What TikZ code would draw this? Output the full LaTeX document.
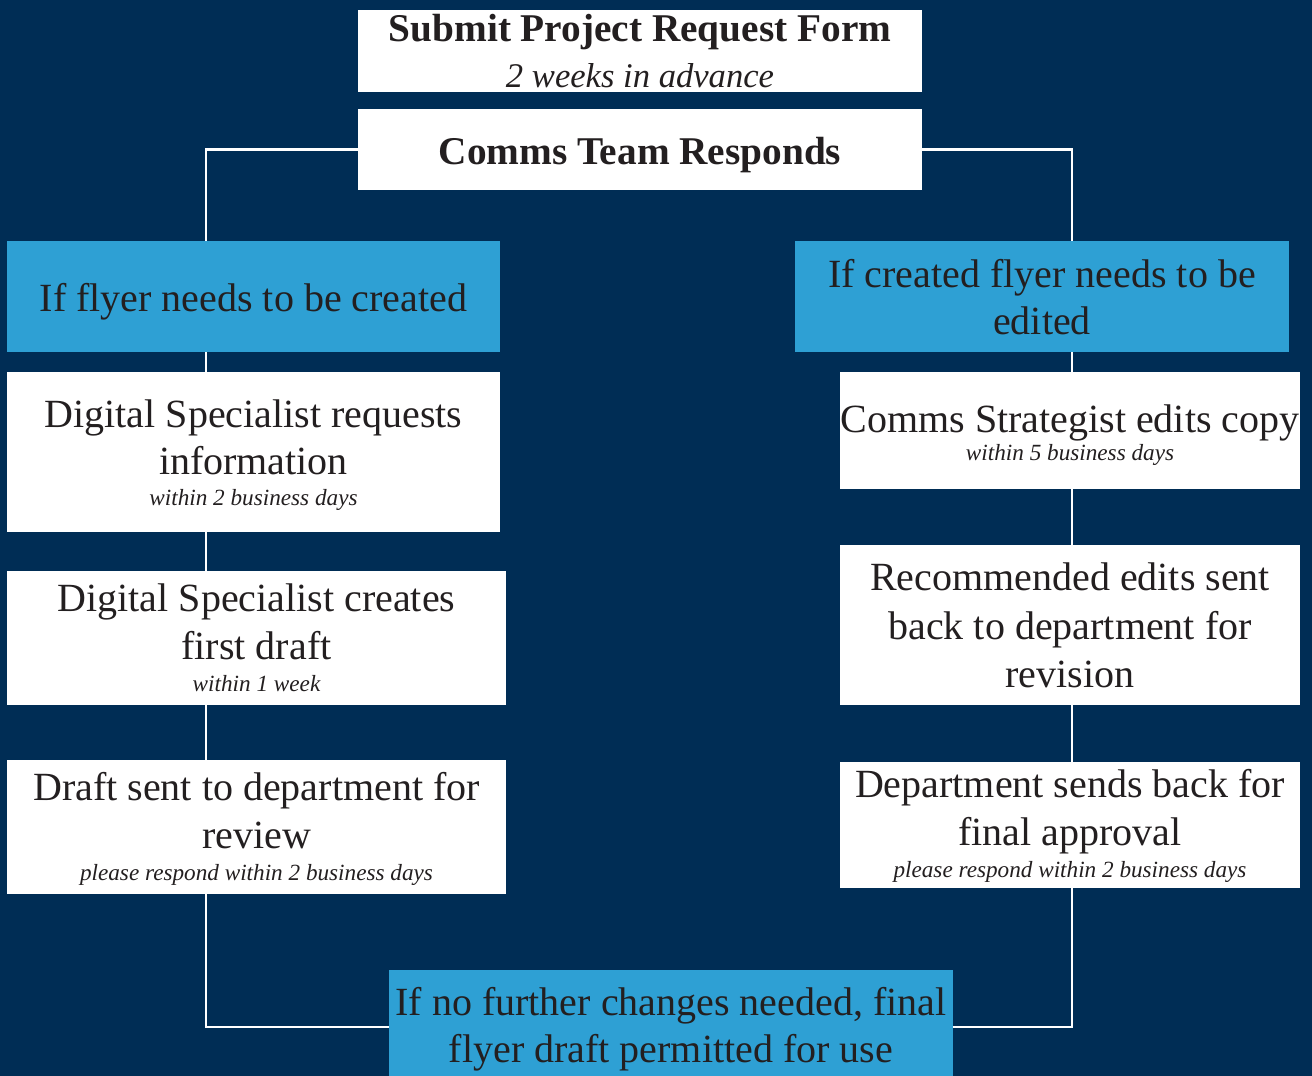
\documentclass[tikz,border=0pt]{standalone}
\usepackage{fontspec}
\setmainfont{Liberation Serif}
\definecolor{navy}{RGB}{0,45,85}
\definecolor{skyblue}{RGB}{46,160,212}
\definecolor{ink}{RGB}{35,31,32}
\pgfdeclarelayer{bglayer}
\pgfdeclarelayer{linelayer}
\pgfsetlayers{bglayer,linelayer,main}
\begin{document}
\begin{tikzpicture}[x=1pt,y=-1pt,
  box/.style={rectangle, inner sep=0pt, outer sep=0pt, draw=none, anchor=north west},
  wbox/.style={box, fill=white},
  bbox/.style={box, fill=skyblue},
  main/.style={anchor=base, inner sep=0pt, text=ink, font=\fontsize{40}{48}\selectfont},
  mainb/.style={anchor=base, inner sep=0pt, text=ink, font=\fontsize{39.3}{47}\selectfont\bfseries},
  lead/.style={anchor=base, inner sep=0pt, text=ink, font=\fontsize{34.6}{40}\selectfont\itshape},
  note/.style={anchor=base, inner sep=0pt, text=ink, font=\fontsize{23.2}{28}\selectfont\itshape},
  conn/.style={draw=white, line width=2.5pt}]
\begin{pgfonlayer}{bglayer}
\fill[navy] (0,0) rectangle (1312,1076);
\end{pgfonlayer}
\useasboundingbox (0,0) rectangle (1312,1076);

% boxes
\node[wbox, minimum width=564pt, minimum height=82pt] (submit) at (358,10) {};
\node[wbox, minimum width=564pt, minimum height=81pt] (comms) at (358,109) {};
\node[bbox, minimum width=493pt, minimum height=111pt] (lblue) at (7,241) {};
\node[bbox, minimum width=494pt, minimum height=111pt] (rblue) at (795,241) {};
\node[wbox, minimum width=493pt, minimum height=160pt] (l1) at (7,372) {};
\node[wbox, minimum width=499pt, minimum height=134pt] (l2) at (7,571) {};
\node[wbox, minimum width=499pt, minimum height=134pt] (l3) at (7,760) {};
\node[wbox, minimum width=460pt, minimum height=117pt] (r1) at (840,372) {};
\node[wbox, minimum width=460pt, minimum height=160pt] (r2) at (840,545) {};
\node[wbox, minimum width=460pt, minimum height=126pt] (r3) at (840,762) {};
\node[bbox, minimum width=564pt, minimum height=114pt] (final) at (389,970) {};

% texts
\node[mainb] (submitA) at (640,41) {Submit Project Request Form};
\node[lead] (submitB) at (640,87) {2 weeks in advance};
\node[mainb] (commsA) at (640,164) {Comms Team Responds};
\node[main] (lblueA) at (253.5,311) {If flyer needs to be created};
\node[main] (rblueA) at (1042,287) {If created flyer needs to be};
\node[main] (rblueB) at (1042,334) {edited};
\node[main] (l1A) at (253.5,427) {Digital Specialist requests};
\node[main] (l1B) at (253.5,474) {information};
\node[note] (l1C) at (253.5,505) {within 2 business days};
\node[main] (l2A) at (256.5,611) {Digital Specialist creates};
\node[main] (l2B) at (256.5,659) {first draft};
\node[note] (l2C) at (256.5,691) {within 1 week};
\node[main] (l3A) at (256.5,800) {Draft sent to department for};
\node[main] (l3B) at (256.5,848) {review};
\node[note] (l3C) at (256.5,880) {please respond within 2 business days};
\node[main] (r1A) at (1070,432) {Comms Strategist edits copy};
\node[note] (r1B) at (1070,460) {within 5 business days};
\node[main] (r2A) at (1070,590) {Recommended edits sent};
\node[main] (r2B) at (1070,639) {back to department for};
\node[main] (r2C) at (1070,687) {revision};
\node[main] (r3A) at (1070,797) {Department sends back for};
\node[main] (r3B) at (1070,845) {final approval};
\node[note] (r3C) at (1070,877) {please respond within 2 business days};
\node[main] (finalA) at (671,1015) {If no further changes needed, final};
\node[main] (finalB) at (671,1062) {flyer draft permitted for use};

% connectors (behind the boxes)
\coordinate (lbend) at (206,600);
\coordinate (rbend) at (1072,600);
\begin{pgfonlayer}{linelayer}
\draw[conn] (comms.west) -| (lbend) |- (final.west);
\draw[conn] (comms.east) -| (rbend) |- (final.east);
\end{pgfonlayer}
\end{tikzpicture}
\end{document}
